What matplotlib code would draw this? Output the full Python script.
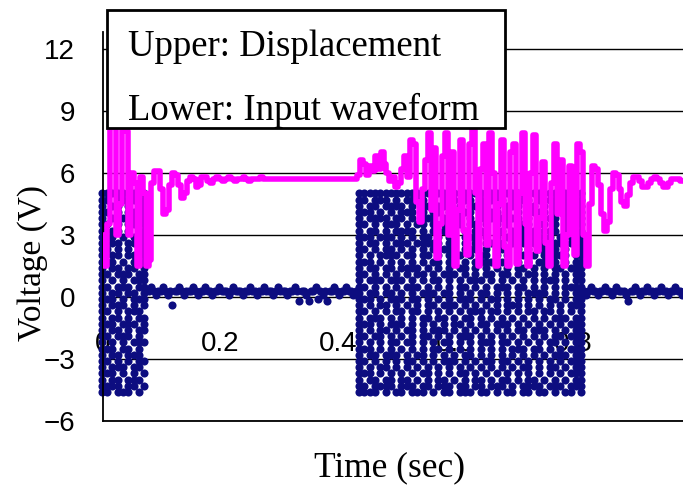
import numpy as np
import matplotlib
matplotlib.use("Agg")
import matplotlib.pyplot as plt
from matplotlib.patches import Rectangle

# upper trace: displacement (V), one value every 5 ms from t=0
disp_dt = 0.005
displacement = [
    3.0, 1.5, 3.5, 8.2, 8.2, 3.0, 4.5, 8.2, 8.0, 3.0, 6.0, 5.5, 1.5, 5.8, 5.0, 1.5, 1.8, 5.5, 6.1, 6.1,
    5.2, 4.0, 4.2, 5.4, 6.0, 5.9, 5.4, 4.8, 5.0, 5.6, 5.8, 5.7, 5.3, 5.4, 5.8, 5.8, 5.6, 5.5, 5.7, 5.8,
    5.7, 5.6, 5.7, 5.8, 5.7, 5.6, 5.7, 5.7, 5.8, 5.7, 5.6, 5.7, 5.7, 5.7, 5.8, 5.7,
    5.7, 5.7, 5.7, 5.7, 5.7, 5.7, 5.7, 5.7, 5.7, 5.7, 5.7, 5.7, 5.7, 5.7, 5.7, 5.7,
    5.7, 5.7, 5.7, 5.7, 5.7, 5.7, 5.7, 5.7, 5.7, 5.7, 5.7, 5.7, 5.7, 5.7, 5.7,
    5.9, 6.6, 6.4, 5.9, 6.3, 6.1, 6.8, 6.2, 7.0, 6.4, 6.0, 5.6, 5.8, 5.3, 5.5, 6.2, 6.8, 5.8, 7.6, 7.4,
    4.6, 3.6, 5.2, 6.6, 7.9, 4.2, 7.2, 1.9, 3.5, 6.8, 7.9, 3.0, 7.0, 1.5, 4.2, 7.6, 3.2, 2.0, 7.4, 8.1,
    5.0, 1.5, 6.2, 7.4, 2.5, 7.9, 6.0, 1.5, 4.5, 7.6, 2.4, 1.5, 7.0, 7.4, 1.6, 5.0, 7.9, 3.5, 1.5, 6.0,
    7.8, 2.2, 3.8, 6.5, 2.6, 1.5, 5.5, 7.4, 4.0, 6.6, 1.5, 3.0, 6.3, 5.0,
    2.0, 7.4, 7.0, 3.0, 1.5, 4.5, 6.3, 6.2, 5.4, 4.0, 3.2, 3.6, 5.2, 6.0, 5.9, 5.2, 4.6, 4.4, 4.9, 5.5,
    5.8, 5.8, 5.6, 5.3, 5.3, 5.5, 5.7, 5.8, 5.7, 5.5, 5.3, 5.3, 5.5, 5.7, 5.7, 5.7, 5.6, 5.6,
]

# lower trace: input waveform, quiet parts, one value every 4 ms
flat_dt = 0.004
flat1_t0 = 0.078
flat1 = [
    0.3, 0.5, 0.3, 0.1, 0.3, 0.3, 0.5, 0.3, 0.1, 0.3, -0.4, 0.3, 0.3, 0.5, 0.3, 0.1, 0.3, 0.3, 0.3, 0.5,
    0.3, 0.1, 0.3, 0.3, 0.5, 0.3, 0.3, 0.1, 0.3, 0.3, 0.5, 0.3, 0.3, 0.3, 0.1, 0.3, 0.5, 0.3, 0.3, 0.3,
    0.1, 0.3, 0.3, 0.5, 0.3, 0.3, 0.1, 0.3, 0.3, 0.5, 0.3, 0.3, 0.3, 0.1, 0.3, 0.5, 0.3, 0.3, 0.3, 0.1,
    0.3, 0.3, 0.5, 0.3, -0.2, 0.3, 0.3, 0.1, -0.2, 0.3, 0.3, 0.5, -0.1, 0.3, 0.1, 0.3, -0.2, 0.3, 0.3, 0.5,
    0.3, 0.1, 0.3, 0.3, 0.5, 0.3, 0.3, 0.1, 0.3,
]
flat2_t0 = 0.818
flat2 = [
    0.3, 0.1, 0.3, 0.5, 0.3, 0.3, 0.1, 0.3, 0.3, 0.5, 0.3, 0.3, 0.1, 0.3, 0.5, 0.3, 0.3, 0.3, 0.1, -0.2,
    0.3, 0.3, 0.5, 0.3, 0.1, 0.3, 0.3, 0.5, 0.3, 0.3, 0.1, 0.3, 0.3, 0.5, 0.3, 0.3, 0.1, 0.3, 0.3, 0.5,
    0.3, 0.3, 0.1, 0.3,
]

# input waveform bursts: column = 9 ms time bin, row = 0.3 V level from 5.0 V down
col_dt = 0.009
level_top = 5.0
level_step = 0.3
burst1_t0 = -0.002
burst1 = [
    "#########", "##.####.#", "#.##.#.##", "##.#.##.#", "#.###.#.#", "##.#.##.#",
    "#.##.#.##", "###.#.#.#", "#.##.####", "##.#.#.##", "#.##.##.#", "###.#.###",
    "#.##.##.#", "##.###.##", "#.#.#.###", "##.###.##", "#.##.##.#", "###.#.###",
    "#.###.#.#", "##.#.###.", "#.##.#.##", "###.###.#", "#.##.#.##", "##.###.#.",
    "#.#.#.###", "###.##.#.", "#.##.###.", "##.#.#.##", "#.###.##.", "###.#.#.#",
    "#.##.###.", "####.##.#", "##.###.#.",
]
burst2_t0 = 0.436
burst2 = [
    "###########################################",
    "##.###.#.####.#.###.##.#.###.#.##.####.#.##",
    "#.##.####.#.##.###.#.####.#.###.##.#.###.##",
    "###.#.#.###.#.##.#.###.#.##.#.#.####.#.#.##",
    "#.####.##.#.###.#.##.#.###.####.#.#.##.####",
    "##.#.###.#.##.#.####.##.#.#.#.###.##.#.#.##",
    "#.##.#.####.#.###.#.#.###.##.###.#.###.##.#",
    "###.###.#.#.##.#.##.###.#.#.##.#.##.#.#.###",
    "#.##.#.###.#####.##.#.#.##.#.#.###.#.####.#",
    "##.#.##.#.#.#.#.###.###.#.###.#.#.##.#.#.##",
    "#.#.####.##.##.#.#.#.#.##.#.#.##.#.#.###.##",
    "###.#.#.#.#.#.##.##.#.####.##.#.#.##.#.#.##",
    "#.##.##.####.#.#.#.##.#.#.#.#.##.#.#.##.###",
    "##.#.#.#.#.##.#.###.#.#.##.##.#.##.#.#.#.##",
    "#.###.###.#.#.##.#.#.###.#.#.#.#.#.###.#.##",
    "##.#.#.#.###.#.#.#.##.#.#.###.##.#.#.#.####",
    "#.##.##.#.#.###.##.#.#.##.#.#.#.####.#.#.##",
    "###.#.###.##.#.#.#.###.#.##.#.#.#.#.##.#.##",
    "#.#.##.#.#.#.##.###.#.#.#.#.###.#.#.#.#.###",
    "##.#.#.##.##.#.#.#.#.###.##.#.#.##.##.#.#.#",
    "#.###.#.#.#.##.##.#.##.#.#.#.#.#.#.#.###.##",
    "###.#.###.#.#.#.#.##.#.##.###.#.#.#.#.#.###",
    "#.#.##.#.##.#.###.#.#.#.#.#.#.##.###.#.#.##",
    "##.##.#.#.#.##.#.#.###.#.#.#.#.#.#.#.##.###",
    "#.#.#.##.##.#.#.##.#.#.###.##.#.#.#.##.#.##",
    "###.#.#.#.#.#.##.#.#.#.#.#.#.###.##.#.#.###",
    "#.##.###.#.##.#.#.#.##.#.#.#.#.#.#.#.###.##",
    "##.#.#.#.##.#.#.###.#.#.##.##.#.#.#.#.#.###",
    "#.#.##.#.#.#.#.#.#.#.#.#.#.#.#.##.#.##.#.##",
    "###.#.#.#.#.##.#.#.##.#.#.#.#.#.#.#.#.#.###",
    "#.##.##.##.#.#.##.#.#.##.#.##.#.##.#.#.#.##",
    "##.####.###.##.###.##.##.###.#.####.###.###",
    "####.#.##.###.#.##.###.##.#.##.##.##.#.##.#",
]

yticks = [-6, -3, 0, 3, 6, 9, 12]
ytick_labels = ["\u22126", "\u22123", "0", "3", "6", "9", "12"]
xticks = [0, 0.2, 0.4, 0.6, 0.8, 1]
xtick_labels = ["0", "0.2", "0.4", "0.6", "0.8", "1"]

NAVY = "#0d0d80"
MAGENTA = "#ff00ff"
SERIF = "Liberation Serif"
SANS = "Liberation Sans"


def burst_points(rows, t0):
    ts, vs = [], []
    for r, row in enumerate(rows):
        for c, ch in enumerate(row):
            if ch == "#":
                ts.append(t0 + c * col_dt)
                vs.append(level_top - r * level_step)
    return ts, vs


W, H = 683, 490
fig = plt.figure(figsize=(W / 100, H / 100), dpi=100)
ax = fig.add_axes([103 / W, 69 / H, 580 / W, 389 / H])
ax.set_xlim(0, 580 / 587.5)
ax.set_ylim(-6, 12.8)

ax.set_yticks(yticks)
ax.set_yticklabels(ytick_labels, fontfamily=SANS, fontsize=20)
ax.tick_params(axis="y", length=0, pad=20)
ax.set_xticks([])
ax.yaxis.grid(True, color="black", lw=1)
ax.set_axisbelow(True)
for s in ["top", "right"]:
    ax.spines[s].set_visible(False)
for s in ["left", "bottom"]:
    ax.spines[s].set_linewidth(1.3)

for x, lab in zip(xticks, xtick_labels):
    ax.text(x, -2.3, lab, ha="center", va="center", fontsize=20,
            fontfamily=SANS, zorder=1.5)

# input waveform dots
t1, v1 = burst_points(burst1, burst1_t0)
t2, v2 = burst_points(burst2, burst2_t0)
tf1 = flat1_t0 + flat_dt * np.arange(len(flat1))
tf2 = flat2_t0 + flat_dt * np.arange(len(flat2))
tin = np.concatenate([t1, tf1, t2, tf2])
vin = np.concatenate([v1, flat1, v2, flat2])
ax.scatter(tin, vin, s=34, color=NAVY, linewidths=0, zorder=2, clip_on=False)

# displacement line
td = disp_dt * np.arange(len(displacement))
ax.plot(td, displacement, color=MAGENTA, lw=4, drawstyle="steps-mid", zorder=3)

# text box in the upper left
box = Rectangle((107 / W, 1 - 128 / H), 398 / W, 118 / H, transform=fig.transFigure,
                facecolor="white", edgecolor="black", lw=2, zorder=10)
fig.add_artist(box)
fig.text(128 / W, 1 - 47 / H, "Upper: Displacement", fontsize=26.5, fontfamily=SERIF,
         va="center", zorder=11)
fig.text(128 / W, 1 - 110 / H, "Lower: Input waveform", fontsize=26.5, fontfamily=SERIF,
         va="center", zorder=11)

fig.text(33 / W, 1 - 263 / H, "Voltage (V)", rotation=90, ha="center", va="center",
         fontsize=24, fontfamily=SERIF)
fig.text(390 / W, 1 - 468 / H, "Time (sec)", ha="center", va="center",
         fontsize=25.5, fontfamily=SERIF)

fig.savefig("out.png", dpi=100)
